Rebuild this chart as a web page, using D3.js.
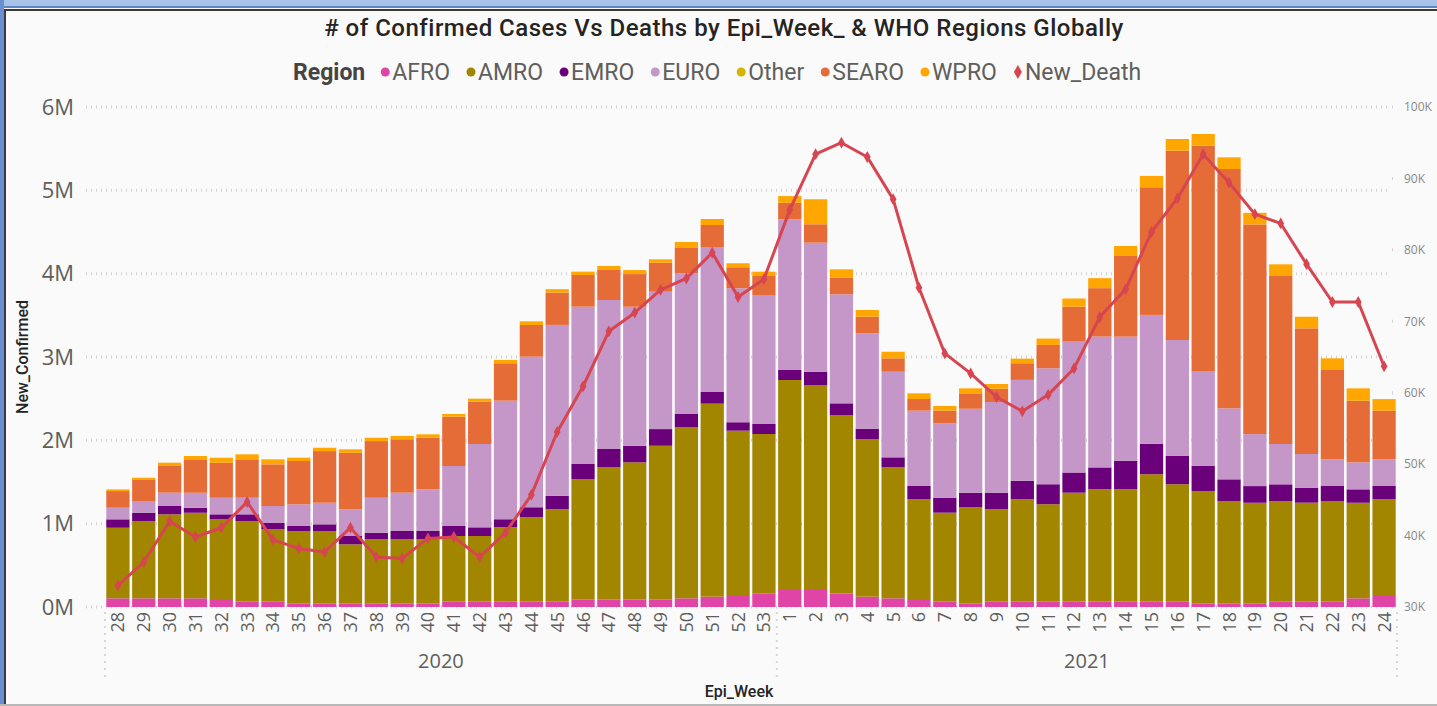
<!DOCTYPE html>
<html>
<head>
<meta charset="utf-8">
<script src="https://cdn.jsdelivr.net/npm/d3@7"></script>
<style>
  html, body { margin: 0; padding: 0; background: #fafafa; overflow: hidden; }
  svg { display: block; }
  .tick text { font-family: "Open Sans", sans-serif; }
</style>
</head>
<body>
<div class="home"></div>
<script>
// Epi weeks on the x axis (two years)
var weeks2020 = ["28","29","30","31","32","33","34","35","36","37","38","39","40","41","42","43","44","45","46","47","48","49","50","51","52","53"];
var weeks2021 = ["1","2","3","4","5","6","7","8","9","10","11","12","13","14","15","16","17","18","19","20","21","22","23","24"];

// new confirmed cases per region, in thousands
var afro = [104,104,104,104,84,64,64,44,44,44,44,44,44,64,64,64,64,64,92,92,92,92,104,124,144,164,
            204,204,164,124,104,84,64,44,64,64,64,64,64,64,64,64,44,44,44,64,64,64,104,144];
var amro = [847,928,1008,1027,968,968,869,868,868,708,768,768,768,788,788,893,1013,1109,1440,1584,1644,1843,2052,2316,1972,1912,
            2520,2460,2136,1892,1572,1208,1068,1152,1109,1229,1169,1308,1349,1349,1529,1409,1348,1228,1207,1208,1188,1208,1147,1148];
var emro = [101,100,100,60,60,80,79,60,80,100,79,100,100,120,104,96,120,160,184,220,199,200,160,140,101,120,
            120,160,144,124,120,160,180,175,199,220,240,242,262,343,364,343,304,260,200,200,180,180,161,160];
var euro = [139,140,160,180,199,199,200,260,259,320,420,460,500,720,1000,1423,1807,2052,1888,1788,1668,1648,1688,1740,1608,1548,
            1808,1548,1308,1145,1027,904,893,1008,1088,1212,1392,1570,1570,1488,1548,1388,1128,852,624,484,404,320,324,320];
var other = [0,0,0,0,0,0,0,0,0,0,0,0,0,0,0,0,0,0,0,0,0,0,0,0,0,0,
             0,0,0,0,0,0,0,0,0,0,0,0,0,0,0,0,0,0,0,0,0,0,0,0];
var searo = [200,260,320,401,420,461,500,520,620,679,680,641,619,592,508,449,380,388,380,368,392,348,304,264,252,228,
             199,221,199,199,161,140,151,185,160,200,280,420,581,968,1532,2272,2712,2872,2516,2016,1508,1072,739,583];
var wpro = [20,19,40,40,60,60,60,40,40,41,40,40,41,32,36,40,44,41,40,40,48,41,72,72,48,52,
            80,300,101,80,79,68,56,60,56,55,76,98,120,120,136,140,140,140,139,140,139,140,149,140];

// new deaths per week, in thousands (right axis)
var newDeath = [33.0,36.3,42.0,39.8,41.1,44.7,39.4,38.2,37.7,41.1,37.0,36.8,39.6,39.8,37.0,40.4,45.7,54.5,60.9,68.6,71.2,74.4,76.0,79.6,73.4,75.9,
                85.6,93.4,95.0,93.0,87.1,74.7,65.5,62.7,59.4,57.4,59.7,63.4,70.6,74.5,82.5,87.2,93.4,89.4,85.0,83.7,78.0,72.7,72.7,63.7];

// axis tick values
var leftTicks = [0, 1e6, 2e6, 3e6, 4e6, 5e6, 6e6];
var rightTicks = [30000, 40000, 50000, 60000, 70000, 80000, 90000, 100000];

var regions = ["AFRO", "AMRO", "EMRO", "EURO", "Other", "SEARO", "WPRO"];
var regionSeries = [afro, amro, emro, euro, other, searo, wpro];
var colors = ["#E044A7", "#A38600", "#6B007B", "#C597C8", "#D9B300", "#E66C37", "#FFA600"];
var deathColor = "#D64550";

var width = 1437,
    height = 706;

// build rows for d3.stack
var rows = [];
weeks2020.forEach(function (w) { rows.push({ year: "2020", week: w }); });
weeks2021.forEach(function (w) { rows.push({ year: "2021", week: w }); });
rows.forEach(function (r, i) {
    r.key = r.year + "-" + r.week;
    regions.forEach(function (reg, j) { r[reg] = regionSeries[j][i] * 1000; });
    r.death = newDeath[i] * 1000;
});

var svg = d3.select(".home").append("svg")
    .attr("width", width)
    .attr("height", height);

// frame of the visual
svg.append("rect").attr("x", 0).attr("y", 0).attr("width", width).attr("height", height).attr("fill", "#fafafa");
svg.append("rect").attr("x", 0).attr("y", 0).attr("width", width).attr("height", 6).attr("fill", "#a9c3e8");
svg.append("rect").attr("x", 0).attr("y", 6).attr("width", width).attr("height", 2).attr("fill", "#5b87c9");
svg.append("rect").attr("x", 0).attr("y", 0).attr("width", 4).attr("height", height).attr("fill", "#6a8fd0");
svg.append("rect").attr("x", 4).attr("y", 9).attr("width", width).attr("height", 2).attr("fill", "#3a3a3a");
svg.append("rect").attr("x", 4).attr("y", 9).attr("width", 2).attr("height", height).attr("fill", "#3a3a3a");
svg.append("rect").attr("x", 0).attr("y", height - 2).attr("width", width).attr("height", 2).attr("fill", "#b8b8b8");

var x = d3.scaleBand()
    .domain(rows.map(function (d) { return d.key; }))
    .range([105, 1397])
    .paddingInner(0.1)
    .paddingOuter(0.05);

var yLeft = d3.scaleLinear().domain([0, 6e6]).range([607, 107]);
var yRight = d3.scaleLinear().domain([30000, 100000]).range([607, 107]);

// gridlines (dotted)
svg.append("g").selectAll("line")
    .data(leftTicks)
    .enter().append("line")
    .attr("x1", 86).attr("x2", 1390)
    .attr("y1", function (d) { return yLeft(d); })
    .attr("y2", function (d) { return yLeft(d); })
    .attr("stroke", "#d2d2d2")
    .attr("stroke-width", 3)
    .attr("stroke-dasharray", "1,4");

// right axis short marks
svg.append("g").selectAll("line")
    .data(rightTicks)
    .enter().append("line")
    .attr("x1", 1392).attr("x2", 1393)
    .attr("y1", function (d) { return yRight(d); })
    .attr("y2", function (d) { return yRight(d); })
    .attr("stroke", "#d2d2d2")
    .attr("stroke-width", 3);

// stacked bars
var stack = d3.stack().keys(regions);
var layers = stack(rows);

svg.append("g").selectAll("g")
    .data(layers)
    .enter().append("g")
    .attr("fill", function (d, i) { return colors[i]; })
    .selectAll("rect")
    .data(function (d) { return d; })
    .enter().append("rect")
    .attr("x", function (d) { return x(d.data.key); })
    .attr("y", function (d) { return yLeft(d[1]); })
    .attr("width", x.bandwidth())
    .attr("height", function (d) { return yLeft(d[0]) - yLeft(d[1]); });

// left axis
var leftAxis = d3.axisLeft(yLeft)
    .tickValues(leftTicks)
    .tickSize(0)
    .tickPadding(0)
    .tickFormat(function (d) { return (d / 1e6) + "M"; });

svg.append("g")
    .attr("transform", "translate(74,0)")
    .call(leftAxis)
    .call(function (g) { g.select(".domain").remove(); })
    .selectAll("text")
    .attr("fill", "#605e5c")
    .style("font-size", "22px");

// right axis
var rightAxis = d3.axisRight(yRight)
    .tickValues(rightTicks)
    .tickSize(0)
    .tickPadding(0)
    .tickFormat(function (d) { return (d / 1000) + "K"; });

svg.append("g")
    .attr("transform", "translate(1404,0)")
    .call(rightAxis)
    .call(function (g) { g.select(".domain").remove(); })
    .selectAll("text")
    .attr("fill", "#8a8886")
    .style("font-size", "12px");

// x axis with rotated week numbers
var xAxis = d3.axisBottom(x)
    .tickSize(0)
    .tickFormat(function (d) { return d.split("-")[1]; });

svg.append("g")
    .attr("transform", "translate(0,612)")
    .call(xAxis)
    .call(function (g) { g.select(".domain").remove(); })
    .selectAll("text")
    .attr("transform", "rotate(-90)")
    .attr("x", 0)
    .attr("y", 0)
    .attr("dy", "0.36em")
    .style("text-anchor", "end")
    .attr("fill", "#605e5c")
    .style("font-size", "18px");

// year groups under the weeks
var yearGroups = [
    { year: "2020", first: "2020-" + weeks2020[0], last: "2020-" + weeks2020[weeks2020.length - 1] },
    { year: "2021", first: "2021-" + weeks2021[0], last: "2021-" + weeks2021[weeks2021.length - 1] }
];
var step = x.step();
var bounds = [x.range()[0],
              x(yearGroups[0].last) + x.bandwidth() + step * x.paddingInner() / 2,
              x.range()[1]];

svg.append("g").selectAll("line")
    .data(bounds)
    .enter().append("line")
    .attr("x1", function (d) { return d; })
    .attr("x2", function (d) { return d; })
    .attr("y1", 612).attr("y2", 680)
    .attr("stroke", "#d6d6d6")
    .attr("stroke-width", 2)
    .attr("stroke-dasharray", "2,5");

svg.append("g").selectAll("text")
    .data(yearGroups)
    .enter().append("text")
    .attr("x", function (d, i) { return (bounds[i] + bounds[i + 1]) / 2; })
    .attr("y", 668)
    .attr("text-anchor", "middle")
    .attr("fill", "#605e5c")
    .style("font-family", "'Open Sans', sans-serif")
    .style("font-size", "20px")
    .text(function (d) { return d.year; });

// deaths line on the right axis
var line = d3.line()
    .x(function (d) { return x(d.key) + x.bandwidth() / 2; })
    .y(function (d) { return yRight(d.death); });

svg.append("path")
    .datum(rows)
    .attr("fill", "none")
    .attr("stroke", deathColor)
    .attr("stroke-width", 3)
    .attr("stroke-linejoin", "round")
    .attr("d", line);

svg.append("g").selectAll("path")
    .data(rows)
    .enter().append("path")
    .attr("transform", function (d) { return "translate(" + (x(d.key) + x.bandwidth() / 2) + "," + yRight(d.death) + ")"; })
    .attr("d", d3.symbol().type(d3.symbolDiamond).size(40))
    .attr("fill", deathColor);

// axis titles
svg.append("text")
    .attr("transform", "translate(28,357) rotate(-90)")
    .attr("text-anchor", "middle")
    .attr("fill", "#252423")
    .style("font-family", "Roboto, sans-serif")
    .style("font-weight", "500")
    .style("font-size", "16px")
    .text("New_Confirmed");

svg.append("text")
    .attr("x", 739)
    .attr("y", 697)
    .attr("text-anchor", "middle")
    .attr("fill", "#252423")
    .style("font-family", "Roboto, sans-serif")
    .style("font-weight", "500")
    .style("font-size", "16px")
    .text("Epi_Week");

// title
svg.append("text")
    .attr("x", 724)
    .attr("y", 36)
    .attr("text-anchor", "middle")
    .attr("fill", "#252423")
    .style("font-family", "Roboto, sans-serif")
    .style("font-weight", "500")
    .style("font-size", "24px")
    .style("letter-spacing", "0.5px")
    .text("# of Confirmed Cases Vs Deaths by Epi_Week_ & WHO Regions Globally");

// legend
var legend = svg.append("g").attr("transform", "translate(293,80)");
var legendFont = "Roboto, sans-serif";

var lx = 0;
var head = legend.append("text")
    .attr("x", lx).attr("y", 0)
    .attr("fill", "#444")
    .style("font-family", legendFont)
    .style("font-weight", "700")
    .style("font-size", "23px")
    .text("Region");
lx += head.node().getComputedTextLength() + 20;

var legendItems = regions.map(function (r, i) { return { name: r, color: colors[i], shape: "circle" }; });
legendItems.push({ name: "New_Death", color: deathColor, shape: "diamond" });

legendItems.forEach(function (it) {
    if (it.shape === "circle") {
        legend.append("circle").attr("cx", lx).attr("cy", -8).attr("r", 4.5).attr("fill", it.color);
    } else {
        legend.append("path")
            .attr("transform", "translate(" + lx + ",-8)")
            .attr("d", d3.symbol().type(d3.symbolDiamond).size(55))
            .attr("fill", it.color);
    }
    var t = legend.append("text")
        .attr("x", lx + 7).attr("y", 0)
        .attr("fill", "#605e5c")
        .style("font-family", legendFont)
        .style("font-size", "23px")
        .text(it.name);
    lx += 7 + t.node().getComputedTextLength() + 21;
});
</script>
</body>
</html>
